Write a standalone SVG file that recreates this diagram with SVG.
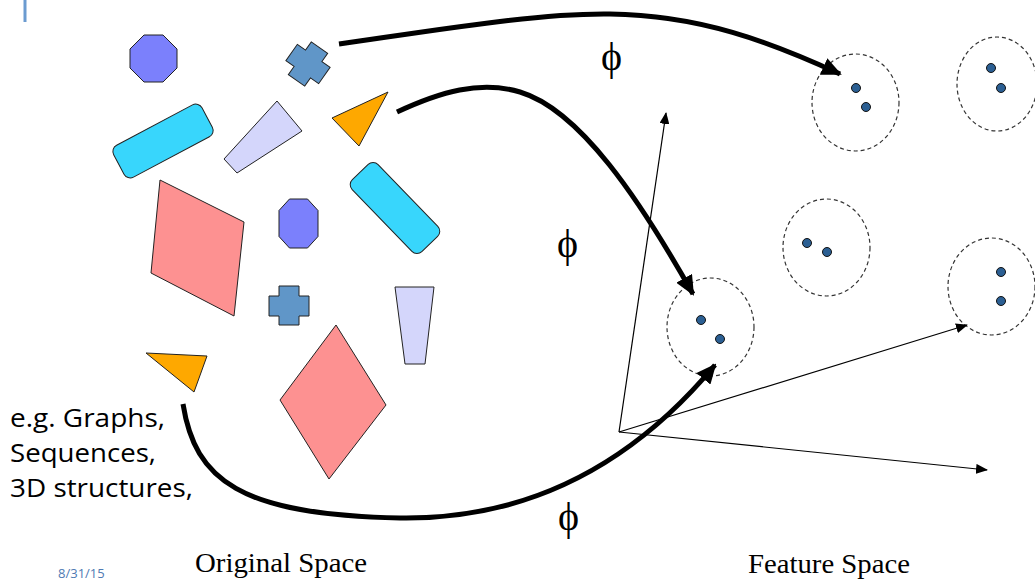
<svg xmlns="http://www.w3.org/2000/svg" width="1035" height="580" viewBox="0 0 1035 580">
<style>
.sh{stroke:#222;stroke-width:1}
.oct{fill:#7b80fc}
.crs{fill:#6096c8}
.cyan{fill:#38d6fc}
.lav{fill:#d4d6fb}
.org{fill:#fea800}
.pink{fill:#fd9191}
.clu{fill:none;stroke:#333;stroke-width:1.2;stroke-dasharray:4 3}
.dot{fill:#2b5f93;stroke:#111;stroke-width:1}
.thick{fill:none;stroke:#000;stroke-width:5}
.thin{fill:none;stroke:#000;stroke-width:1.2}
.phi{font-family:"Liberation Serif",serif;font-size:40px;fill:#000}
.cap{font-family:"Liberation Serif",serif;font-size:28px;fill:#000}
.eg{font-family:"Open Sans",sans-serif;font-size:25px;fill:#000}
</style>
<defs>
<marker id="big" markerUnits="userSpaceOnUse" markerWidth="20" markerHeight="18" refX="18" refY="9" orient="auto"><path d="M0,0 L20,9 L0,18 z" fill="#000"/></marker>
<marker id="small" markerUnits="userSpaceOnUse" markerWidth="12" markerHeight="10" refX="11" refY="5" orient="auto"><path d="M0,0 L12,5 L0,10 z" fill="#000"/></marker>
</defs>
<rect width="1035" height="580" fill="#fff"/>
<line x1="25" y1="0" x2="25" y2="22" stroke="#6b9bd0" stroke-width="3"/>
<g id="shapes">
<polygon id="octagon1" class="sh oct" points="144,35 163,35 177,49 177,68 163,82 144,82 130,68 130,49"/>
<polygon id="cross1" class="sh crs" transform="translate(308,64) rotate(35)" points="-10,-20 10,-20 10,-10 20,-10 20,10 10,10 10,20 -10,20 -10,10 -20,10 -20,-10 -10,-10"/>
<rect id="rect1" class="sh cyan" x="-50" y="-18" width="100" height="36" rx="7" transform="translate(163,141) rotate(-28)"/>
<polygon id="trap1" class="sh lav" points="224,159 277,101 302,131 237,173"/>
<polygon id="tri1" class="sh org" points="332,118 388,92 359,146"/>
<rect id="rect2" class="sh cyan" x="-50" y="-18" width="100" height="36" rx="7" transform="translate(395,208) rotate(46)"/>
<polygon id="diamond1" class="sh pink" points="160,180 244,222 234,316 151,273"/>
<polygon id="octagon2" class="sh oct" points="289.5,199 307.5,199 318,210.5 318,236.5 307.5,248 289.5,248 279,236.5 279,210.5"/>
<polygon id="cross2" class="sh crs" points="279,286 299,286 299,296 309,296 309,316 299,316 299,325 279,325 279,316 269,316 269,296 279,296"/>
<polygon id="trap2" class="sh lav" points="395,287 434,287 425,364 405,364"/>
<polygon id="tri2" class="sh org" points="146,353 207,356 194,392"/>
<polygon id="diamond2" class="sh pink" points="336,325 386,405 329,479 280,400"/>
</g>
<g id="clusters">
<g id="c1"><ellipse class="clu" cx="855.5" cy="102.5" rx="43.5" ry="48.5"/><circle class="dot" cx="856" cy="88" r="4.5"/><circle class="dot" cx="866" cy="107" r="4.5"/></g>
<g id="c2"><ellipse class="clu" cx="997" cy="84" rx="40" ry="47"/><circle class="dot" cx="991" cy="68" r="4.5"/><circle class="dot" cx="1001" cy="88" r="4.5"/></g>
<g id="c3"><ellipse class="clu" cx="826.5" cy="247.5" rx="43.5" ry="48.5"/><circle class="dot" cx="807" cy="243" r="4.5"/><circle class="dot" cx="827" cy="252" r="4.5"/></g>
<g id="c4"><ellipse class="clu" cx="991.5" cy="286.5" rx="43.5" ry="48.5"/><circle class="dot" cx="1001" cy="272" r="4.5"/><circle class="dot" cx="1001" cy="301" r="4.5"/></g>
<g id="c5"><ellipse class="clu" cx="710.5" cy="327" rx="43.5" ry="49"/><circle class="dot" cx="701" cy="320" r="4.5"/><circle class="dot" cx="720" cy="339" r="4.5"/></g>
</g>
<g id="connectors">
<line class="thin" x1="619" y1="432" x2="666" y2="113" marker-end="url(#small)"/>
<line class="thin" x1="619" y1="432" x2="967" y2="325" marker-end="url(#small)"/>
<line class="thin" x1="619" y1="432" x2="987" y2="470" marker-end="url(#small)"/>
<path class="thick" d="M339,44 C450,28 540,13 610,14 C700,15 770,42 840,74" marker-end="url(#big)"/>
<path class="thick" d="M397,112 C440,92 480,80 520,92 C580,110 640,200 693,294" marker-end="url(#big)"/>
<path class="thick" d="M183,404 C195,480 240,515 400,518 C540,520 640,455 715,365" marker-end="url(#big)"/>
</g>
<g id="labels">
<text class="phi" x="601" y="70">ϕ</text>
<text class="phi" x="557" y="257">ϕ</text>
<text class="phi" x="558" y="530">ϕ</text>
<text class="eg" x="10" y="427" textLength="155" lengthAdjust="spacingAndGlyphs">e.g. Graphs,</text>
<text class="eg" x="10" y="462" textLength="146" lengthAdjust="spacingAndGlyphs">Sequences,</text>
<text class="eg" x="10" y="497" textLength="183" lengthAdjust="spacingAndGlyphs">3D structures,</text>
<text class="cap" x="195" y="572" textLength="172" lengthAdjust="spacingAndGlyphs">Original Space</text>
<text class="cap" x="748" y="573" textLength="162" lengthAdjust="spacingAndGlyphs">Feature Space</text>
<text x="58" y="578" font-family="Open Sans,sans-serif" font-size="13" fill="#4f7ab3">8/31/15</text>
</g>
</svg>
